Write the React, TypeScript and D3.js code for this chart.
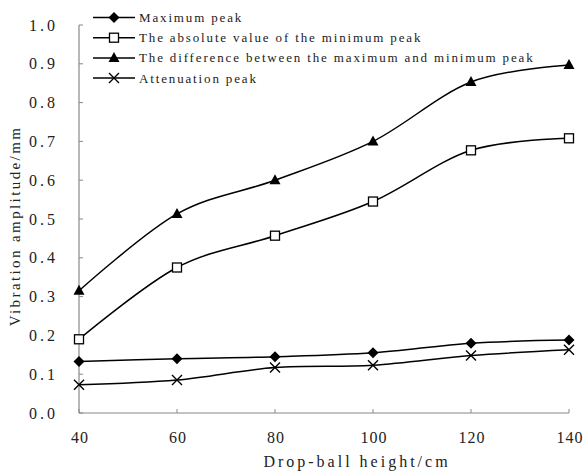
import React from "react";
import * as d3 from "d3";

const heights = [40, 60, 80, 100, 120, 140];
const maxPeak = [0.133, 0.14, 0.145, 0.155, 0.18, 0.188];
const absMinPeak = [0.19, 0.375, 0.457, 0.545, 0.677, 0.708];
const diffPeak = [0.315, 0.513, 0.6, 0.7, 0.853, 0.897];
const attenuationPeak = [0.073, 0.085, 0.117, 0.123, 0.148, 0.163];
const yTicks = [0, 0.1, 0.2, 0.3, 0.4, 0.5, 0.6, 0.7, 0.8, 0.9, 1.0];

const series = [
  { name: "Maximum peak", values: maxPeak, marker: "diamond" },
  { name: "The absolute value of the minimum peak", values: absMinPeak, marker: "square" },
  { name: "The difference between the maximum and minimum peak", values: diffPeak, marker: "triangle" },
  { name: "Attenuation peak", values: attenuationPeak, marker: "cross" },
];

const font = "'Liberation Serif', 'DejaVu Serif', serif";

const Marker = ({ type, x, y }: { type: string; x: number; y: number }) => {
  if (type === "diamond")
    return <path d={`M${x},${y - 5.5}L${x + 5.5},${y}L${x},${y + 5.5}L${x - 5.5},${y}Z`} fill="#000" />;
  if (type === "square")
    return <rect x={x - 4.5} y={y - 4.5} width={9} height={9} fill="#fff" stroke="#000" strokeWidth={1.3} />;
  if (type === "triangle")
    return <path d={`M${x},${y - 6}L${x + 5.5},${y + 4}L${x - 5.5},${y + 4}Z`} fill="#000" />;
  return (
    <path
      d={`M${x - 5},${y - 5}L${x + 5},${y + 5}M${x + 5},${y - 5}L${x - 5},${y + 5}`}
      stroke="#000"
      strokeWidth={1.4}
    />
  );
};

const App = () => {
  const x = d3.scaleLinear().domain([40, 140]).range([79, 569]);
  const y = d3.scaleLinear().domain([0, 1]).range([413, 25]);
  const line = d3
    .line<number>()
    .x((_, i) => x(heights[i]))
    .y((v) => y(v))
    .curve(d3.curveCatmullRom.alpha(0));

  return (
    <svg
      width={584}
      height={473}
      style={{ position: "absolute", left: 0, top: 0, background: "#fff" }}
      fontFamily={font}
    >
      {/* axes */}
      <line x1={79} x2={79} y1={y(1)} y2={y(0)} stroke="#888" strokeWidth={1.2} />
      <line x1={79} x2={569} y1={y(0)} y2={y(0)} stroke="#888" strokeWidth={1.2} />
      {yTicks.map((t) => (
        <g key={t}>
          <line x1={79} x2={83} y1={y(t)} y2={y(t)} stroke="#888" />
          <text x={58} y={y(t)} dy="0.35em" textAnchor="end" fontSize={16} letterSpacing={3} fill="#222">
            {t.toFixed(1)}
          </text>
        </g>
      ))}
      {heights.map((h) => (
        <g key={h}>
          <line x1={x(h)} x2={x(h)} y1={y(0)} y2={y(0) - 4} stroke="#888" />
          <text x={x(h) + 1} y={443} textAnchor="middle" fontSize={16} letterSpacing={1} fill="#222">
            {h}
          </text>
        </g>
      ))}
      <text x={357} y={467} textAnchor="middle" fontSize={16} letterSpacing={3} fill="#222">
        Drop-ball height/cm
      </text>
      <text
        transform="translate(20,226) rotate(-90)"
        textAnchor="middle"
        fontSize={15}
        letterSpacing={2.4}
        fill="#222"
      >
        Vibration amplitude/mm
      </text>

      {/* series */}
      {series.map((s) => (
        <g key={s.name}>
          <path d={line(s.values) || ""} fill="none" stroke="#000" strokeWidth={1.5} />
          {s.values.map((v, i) => (
            <Marker key={i} type={s.marker} x={x(heights[i])} y={y(v)} />
          ))}
        </g>
      ))}

      {/* legend */}
      {series.map((s, i) => {
        const ly = 17.5 + i * 20.2;
        return (
          <g key={s.name}>
            <line x1={93} x2={135} y1={ly} y2={ly} stroke="#000" strokeWidth={1.5} />
            <Marker type={s.marker} x={114} y={ly} />
            <text x={139} y={ly} dy="0.35em" fontSize={13} letterSpacing={1.85} fill="#222">
              {s.name}
            </text>
          </g>
        );
      })}
    </svg>
  );
};

export default App;
